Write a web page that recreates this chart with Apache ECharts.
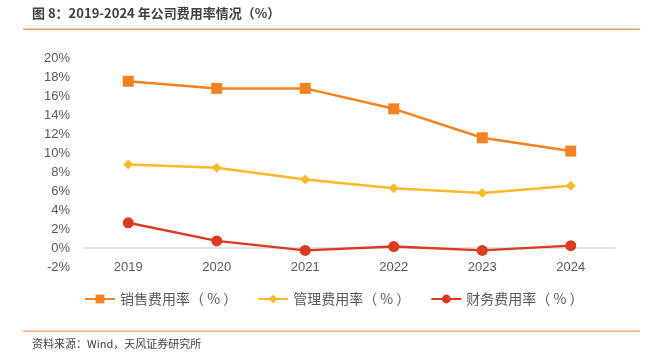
<!DOCTYPE html>
<html><head><meta charset="utf-8">
<script src="https://cdn.jsdelivr.net/npm/echarts@6/dist/echarts.min.js"></script>
<style>html,body{margin:0;padding:0;background:#fff}#c{width:655px;height:357px}</style>
</head><body><div id="c"></div>
<script>
const categories = ['2019','2020','2021','2022','2023','2024'];
const salesRate = [17.55, 16.8, 16.8, 14.65, 11.6, 10.2];
const adminRate = [8.8, 8.45, 7.2, 6.3, 5.8, 6.55];
const financeRate = [2.65, 0.75, -0.25, 0.15, -0.25, 0.25];
const seriesNames = ['销售费用率（ % ）', '管理费用率（ % ）', '财务费用率（ % ）'];
const yTicks = { min: -2, max: 20, interval: 2 };

const FONT = '"Noto Sans CJK SC", "Noto Sans", sans-serif';
const chart = echarts.init(document.getElementById('c'));
chart.setOption({
  animation: false,
  textStyle: { fontFamily: FONT },
  graphic: [
    { type: 'text', left: 32, top: 7, style: { text: '图 8：2019-2024 年公司费用率情况（%）', font: 'bold 13px ' + FONT, fill: '#404040' } },
    { type: 'rect', shape: { x: 23, y: 28.5, width: 617, height: 1.5 }, style: { fill: '#F0A060' } },
    { type: 'rect', shape: { x: 23, y: 330.5, width: 617, height: 1.2 }, style: { fill: '#F0A060' } },
    { type: 'text', left: 32, top: 338, style: { text: '资料来源：Wind，天风证券研究所', font: '11px ' + FONT, fill: '#404040' } }
  ],
  grid: { left: 84, right: 40, top: 58, bottom: 90, containLabel: false },
  legend: {
    top: 287, left: 79, itemWidth: 30, itemHeight: 11, itemGap: 20,
    textStyle: { fontSize: 14, color: '#595959', fontFamily: FONT },
    data: seriesNames
  },
  xAxis: {
    type: 'category', data: categories, boundaryGap: true,
    axisLine: { onZero: true, lineStyle: { color: '#D9D9D9', width: 1.5 } },
    axisTick: { show: false },
    axisLabel: { color: '#595959', fontSize: 13, margin: -6, fontFamily: 'Liberation Sans, Arial, sans-serif' }
  },
  yAxis: {
    type: 'value', min: yTicks.min, max: yTicks.max, interval: yTicks.interval,
    axisLine: { show: false }, axisTick: { show: false }, splitLine: { show: false },
    axisLabel: { color: '#595959', fontSize: 13, margin: 14, formatter: '{value}%', fontFamily: 'Liberation Sans, Arial, sans-serif' }
  },
  series: [
    { name: seriesNames[0], type: 'line', data: salesRate, symbol: 'rect', symbolSize: 11,
      lineStyle: { color: '#F58220', width: 2.5 }, itemStyle: { color: '#F58220' } },
    { name: seriesNames[1], type: 'line', data: adminRate, symbol: 'diamond', symbolSize: 10,
      lineStyle: { color: '#FDB92B', width: 2.5 }, itemStyle: { color: '#FDB92B' } },
    { name: seriesNames[2], type: 'line', data: financeRate, symbol: 'circle', symbolSize: 11,
      lineStyle: { color: '#DA3A1E', width: 2.5 }, itemStyle: { color: '#DA3A1E' } }
  ]
});
</script></body></html>
